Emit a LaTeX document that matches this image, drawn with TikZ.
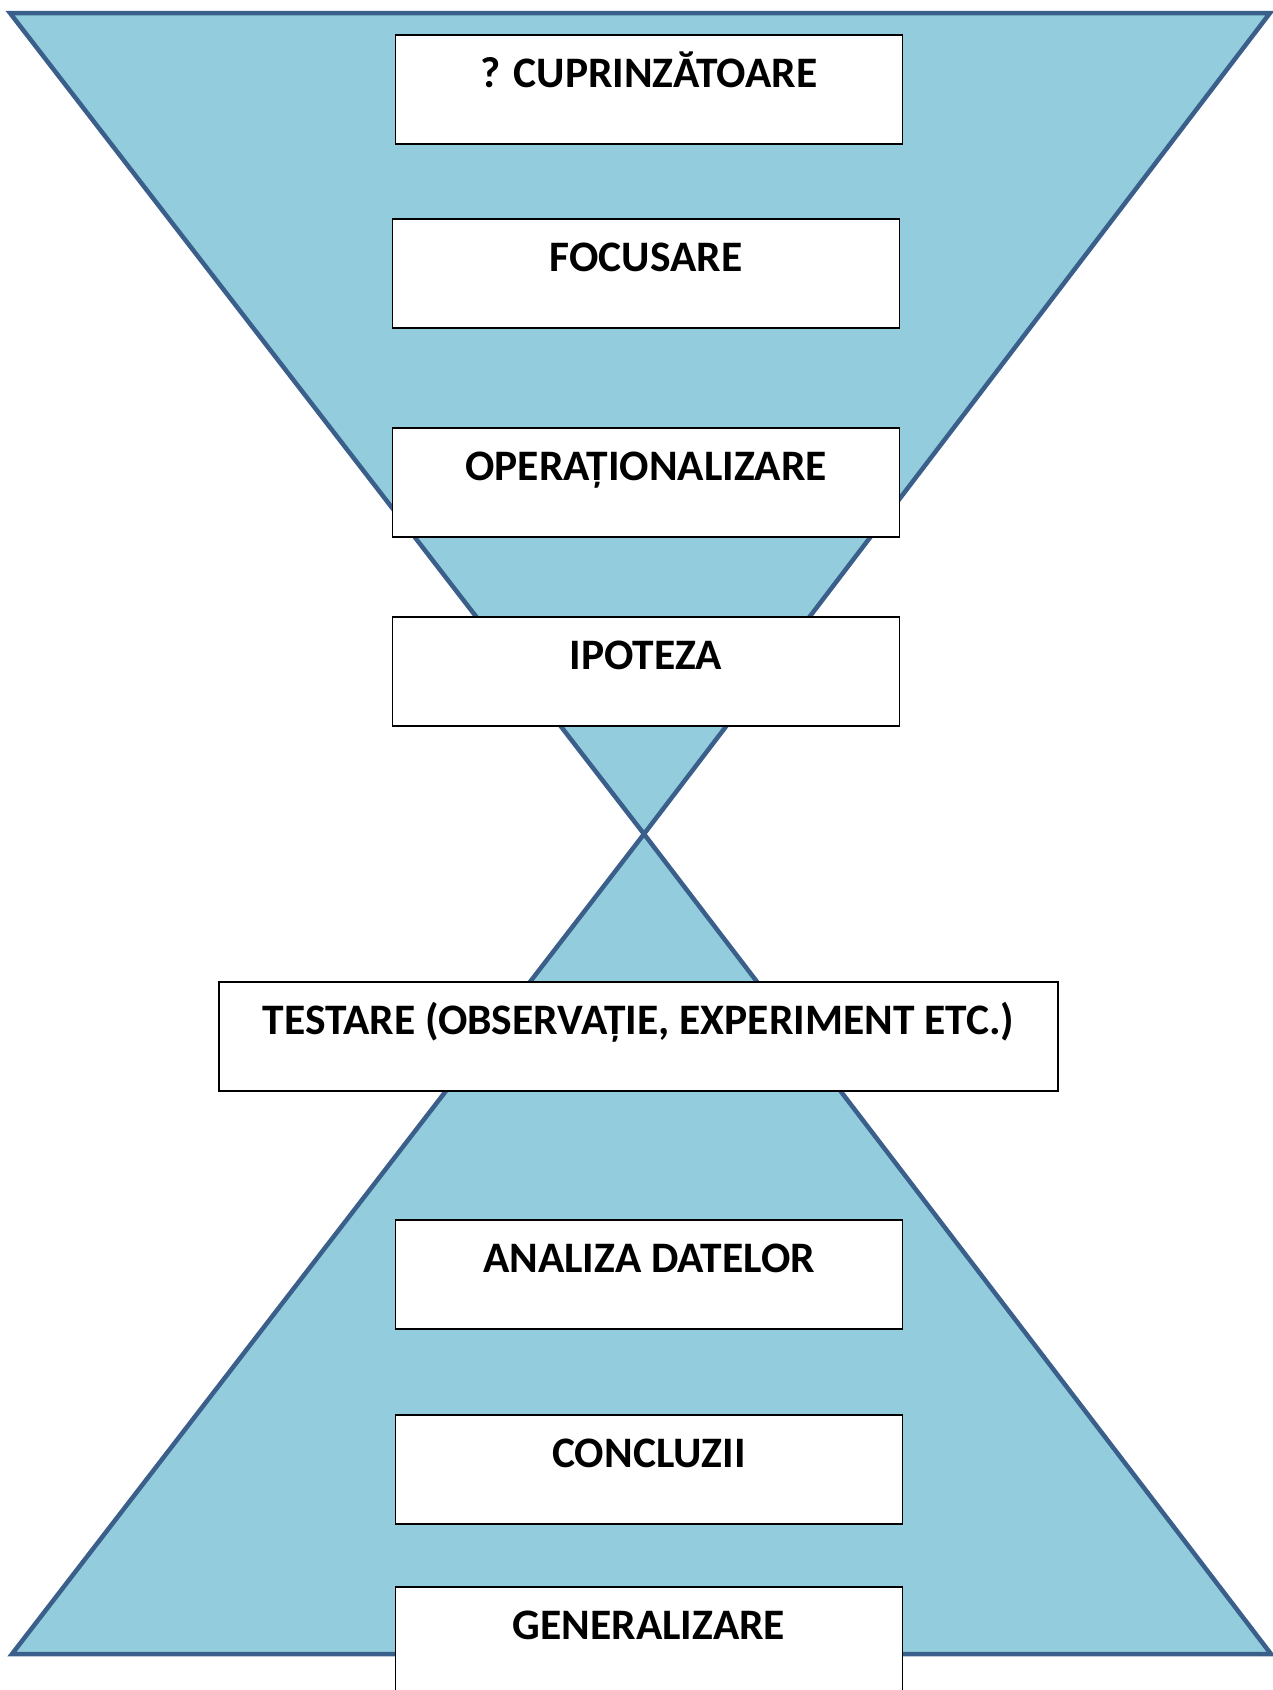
\documentclass[tikz,border=0pt]{standalone}
\usepackage{fontspec}
\setmainfont{Carlito}
\definecolor{funfill}{HTML}{93CDDD}
\definecolor{funline}{HTML}{3A5F8B}
\tikzset{
  funnel/.style={fill=funfill, draw=funline, line width=4.5pt, line join=miter},
  stepbox/.style={draw=black, line width=1.8pt, fill=white, inner sep=0pt,
    minimum width=507pt, text height=53pt, text depth=56pt, anchor=north,
    font=\fontsize{43.5}{48}\selectfont\bfseries}
}
\begin{document}
\begin{tikzpicture}[x=1pt,y=-1pt]
\clip (0,0) rectangle (1273,1690);
\useasboundingbox (0,0) rectangle (1273,1690);
\coordinate (tl) at (10,13);
\coordinate (tr) at (1270,13);
\coordinate (apex) at (644,834);
\coordinate (bl) at (12,1654);
\coordinate (br) at (1271,1654);
\draw[funnel] (tl) -- (tr) -- (apex) -- cycle;
\draw[funnel] (apex) -- (br) -- (bl) -- cycle;
\node[stepbox] (b1) at (649,34) {? CUPRINZĂTOARE};
\node[stepbox] (b2) at (646,218) {FOCUSARE};
\node[stepbox] (b3) at (646,427) {OPERAȚIONALIZARE};
\node[stepbox] (b4) at (646,616) {IPOTEZA};
\node[stepbox, minimum width=839pt] (b5) at (638.5,981) {TESTARE (OBSERVAȚIE, EXPERIMENT ETC.)};
\node[stepbox] (b6) at (649,1219) {ANALIZA DATELOR};
\node[stepbox] (b7) at (649,1414) {CONCLUZII};
\node[stepbox] (b8) at (649,1586) {GENERALIZARE};
\end{tikzpicture}
\end{document}
